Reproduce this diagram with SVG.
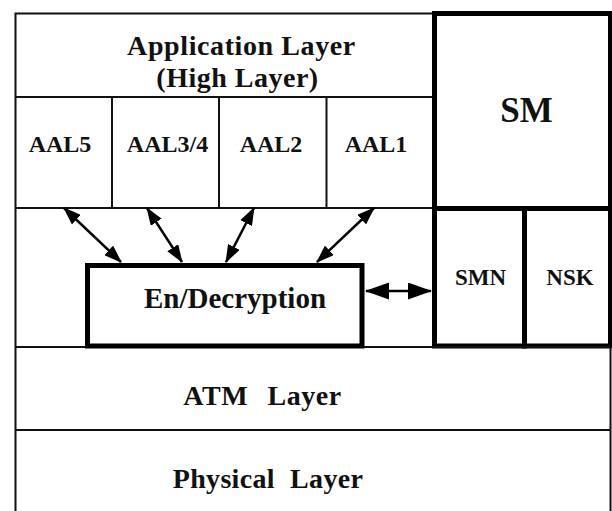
<svg xmlns="http://www.w3.org/2000/svg" width="612" height="511" viewBox="0 0 612 511">
<style>
.thin{fill:none;stroke:#111;stroke-width:2}
.thick{fill:none;stroke:#000;stroke-width:5}
.t{font-family:'Liberation Serif',serif;font-weight:bold;fill:#111;text-anchor:middle}
.arr{stroke:#000;stroke-width:2.5;fill:none}
</style>
<defs>
<marker id="ah" markerUnits="userSpaceOnUse" markerWidth="18" markerHeight="13" refX="17" refY="6.5" orient="auto-start-reverse">
<path d="M0,0 L18,6.5 L0,13 z" fill="#000"/>
</marker>
<marker id="ahb" markerUnits="userSpaceOnUse" markerWidth="24" markerHeight="17" refX="23" refY="8.5" orient="auto-start-reverse">
<path d="M0,0 L24,8.5 L0,17 z" fill="#000"/>
</marker>
</defs>
<rect x="0" y="0" width="612" height="511" fill="#fff"/>
<g id="frame">
<path class="thin" d="M15.5,520 V13.5 H434"/>
<line class="thin" x1="610.5" y1="208" x2="610.5" y2="520"/>
</g>
<g id="application-layer">
<line class="thin" x1="15" y1="97" x2="434" y2="97"/>
<text class="t" x="241.5" y="55" font-size="28" letter-spacing="0.6">Application Layer</text>
<text class="t" x="237.5" y="87" font-size="28" letter-spacing="0.5">(High Layer)</text>
</g>
<g id="aal-row">
<line class="thin" x1="15" y1="208" x2="434" y2="208"/>
<line class="thin" x1="112" y1="97" x2="112" y2="208"/>
<line class="thin" x1="219" y1="97" x2="219" y2="208"/>
<line class="thin" x1="326.5" y1="97" x2="326.5" y2="208"/>
</g>
<g id="aal5"><text class="t" x="60" y="152" font-size="24">AAL5</text></g>
<g id="aal34"><text class="t" x="167.5" y="152" font-size="24">AAL3/4</text></g>
<g id="aal2"><text class="t" x="271" y="152" font-size="24">AAL2</text></g>
<g id="aal1"><text class="t" x="376" y="152" font-size="24">AAL1</text></g>
<g id="sm">
<rect class="thick" x="434.5" y="13.5" width="176" height="195" stroke-width="4.5"/>
<text class="t" x="526.5" y="122" font-size="35">SM</text>
</g>
<g id="smn">
<rect class="thick" x="434.5" y="208.5" width="90" height="137.5" stroke-width="4.5"/>
<text class="t" x="480.5" y="285" font-size="23">SMN</text>
</g>
<g id="nsk">
<rect class="thick" x="524.5" y="208.5" width="86" height="137.5" stroke-width="4.5"/>
<text class="t" x="570" y="285" font-size="23">NSK</text>
</g>
<g id="atm-layer">
<line class="thin" x1="15" y1="347" x2="611" y2="347"/>
<text class="t" x="262.5" y="405" font-size="28" word-spacing="12" letter-spacing="0.5">ATM Layer</text>
</g>
<g id="physical-layer">
<line class="thin" x1="15" y1="430" x2="611" y2="430"/>
<text class="t" x="268" y="488" font-size="28" word-spacing="8" letter-spacing="0.3">Physical Layer</text>
</g>
<g id="en-decryption">
<rect class="thick" x="87.5" y="265.5" width="274.5" height="80.5" fill="#fff"/>
<text class="t" x="235" y="308" font-size="29">En/Decryption</text>
</g>
<g id="connectors">
<line class="arr" x1="64" y1="208" x2="121" y2="262" marker-start="url(#ah)" marker-end="url(#ah)"/>
<line class="arr" x1="147" y1="208" x2="182" y2="262" marker-start="url(#ah)" marker-end="url(#ah)"/>
<line class="arr" x1="254" y1="208" x2="226" y2="262" marker-start="url(#ah)" marker-end="url(#ah)"/>
<line class="arr" x1="374" y1="208" x2="317" y2="262" marker-start="url(#ah)" marker-end="url(#ah)"/>
<line class="arr" x1="366" y1="291" x2="431" y2="291" stroke-width="5" marker-start="url(#ahb)" marker-end="url(#ahb)"/>
</g>
</svg>
